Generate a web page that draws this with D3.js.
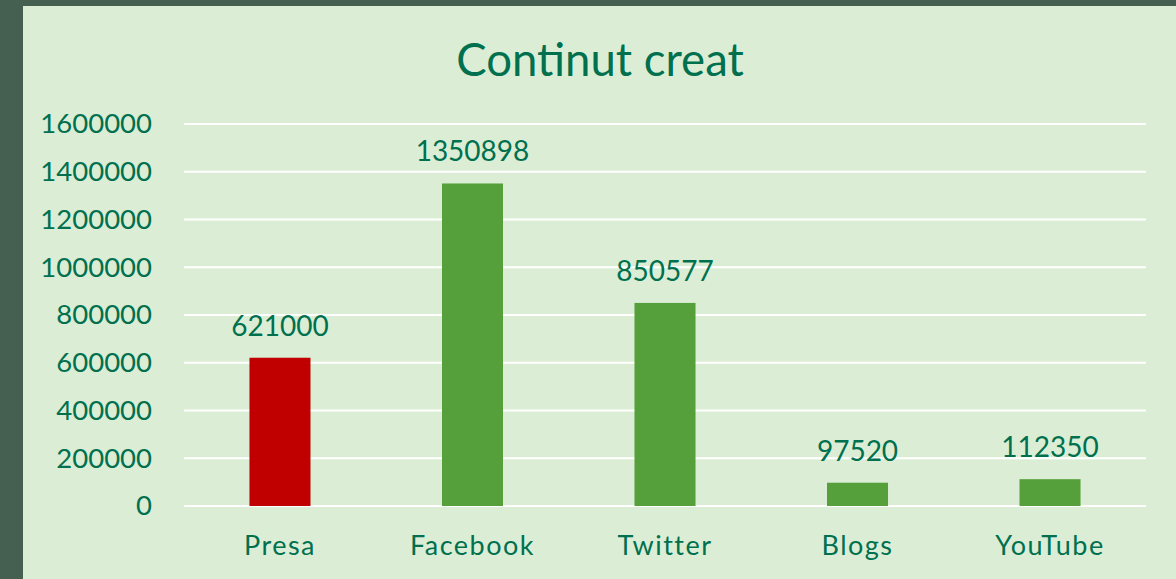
<!DOCTYPE html>
<html>
<head>
<meta charset="utf-8">
<script src="https://cdn.jsdelivr.net/npm/d3@7"></script>
<style>
  body { margin: 0; background: #455F51; }
  text { font-family: Lato, "Open Sans", sans-serif; fill: #00704F; }
</style>
</head>
<body>
<div id="chart"></div>
<script>
// data
var categories = ["Presa", "Facebook", "Twitter", "Blogs", "YouTube"];
var values = [621000, 1350898, 850577, 97520, 112350];
var yTicks = [0, 200000, 400000, 600000, 800000, 1000000, 1200000, 1400000, 1600000];

var svgWidth = 1176;
var svgHeight = 579;

var margin = { top: 124, right: 30, bottom: 73, left: 184 };
var width = 1146 - margin.left;
var height = 506 - margin.top;

var svg = d3.select("#chart")
  .append("svg")
  .attr("width", svgWidth)
  .attr("height", svgHeight);

// background panel with dark frame on left/top
svg.append("rect")
  .attr("x", 23).attr("y", 6)
  .attr("width", svgWidth - 23).attr("height", svgHeight - 6)
  .attr("fill", "#DBEED5");

svg.append("text")
  .attr("x", 600)
  .attr("y", 76)
  .attr("text-anchor", "middle")
  .attr("font-size", "45.5px")
  .text("Continut creat");

var chartGroup = svg.append("g")
  .attr("transform", `translate(${margin.left}, ${margin.top})`);

var x = d3.scaleBand()
  .domain(categories)
  .range([0, width])
  .paddingInner(0.683)
  .paddingOuter(0.34);

var y = d3.scaleLinear()
  .domain([0, 1600000])
  .range([height, 0]);

// gridlines
chartGroup.selectAll(".grid")
  .data(yTicks)
  .enter()
  .append("line")
  .attr("x1", 0)
  .attr("x2", width)
  .attr("y1", d => y(d))
  .attr("y2", d => y(d))
  .attr("stroke", "#ffffff")
  .attr("stroke-width", 2);

// y axis labels
var leftAxis = d3.axisLeft(y)
  .tickValues(yTicks)
  .tickFormat(d3.format("d"))
  .tickSize(0)
  .tickPadding(32);
var yAxis = chartGroup.append("g").call(leftAxis);
yAxis.select(".domain").remove();
yAxis.selectAll("text")
  .attr("font-size", "27.5px")
  .attr("font-family", "Lato, sans-serif")
  .attr("fill", "#00704F");

// x axis labels
var bottomAxis = d3.axisBottom(x).tickSize(0).tickPadding(30);
var xAxis = chartGroup.append("g")
  .attr("transform", `translate(0, ${height})`)
  .call(bottomAxis);
xAxis.select(".domain").remove();
xAxis.selectAll("text")
  .attr("font-size", "27px")
  .attr("letter-spacing", "1.5px")
  .attr("font-family", "Lato, sans-serif")
  .attr("fill", "#00704F");

// bars
chartGroup.selectAll(".bar")
  .data(values)
  .enter()
  .append("rect")
  .attr("x", (d, i) => x(categories[i]))
  .attr("y", d => y(d))
  .attr("width", x.bandwidth())
  .attr("height", d => height - y(d))
  .attr("fill", (d, i) => i === 0 ? "#C00000" : "#55A03A");

// value labels
chartGroup.selectAll(".val")
  .data(values)
  .enter()
  .append("text")
  .attr("x", (d, i) => x(categories[i]) + x.bandwidth() / 2)
  .attr("y", d => y(d) - 22)
  .attr("text-anchor", "middle")
  .attr("font-size", "28px")
  .text(d => d);
</script>
</body>
</html>
